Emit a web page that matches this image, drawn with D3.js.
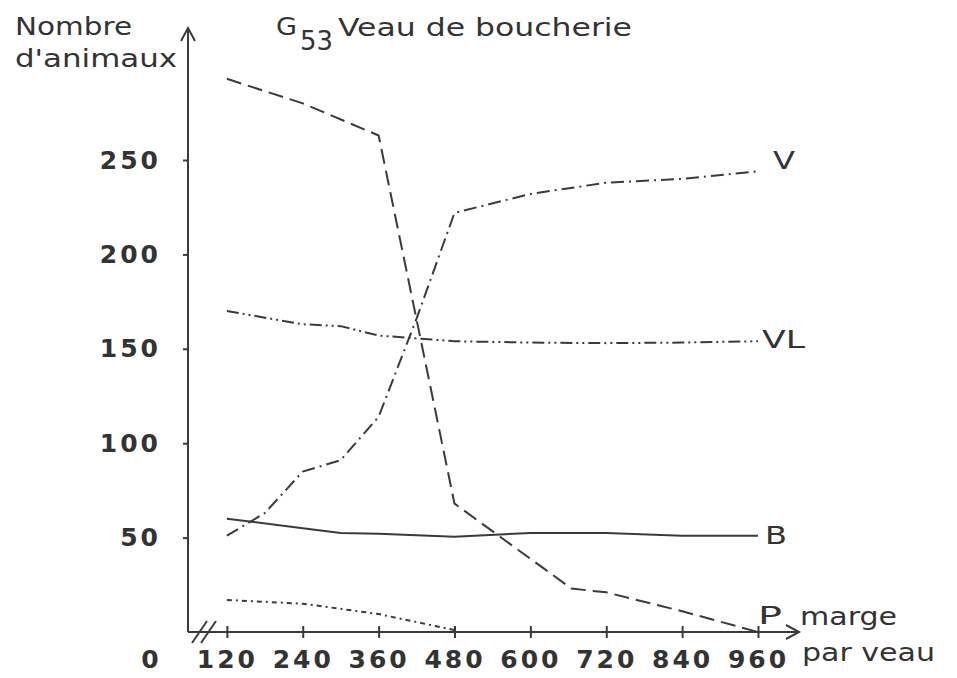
<!DOCTYPE html>
<html>
<head>
<meta charset="utf-8">
<script src="https://cdn.jsdelivr.net/npm/d3@7"></script>
<style>
  html, body { margin: 0; padding: 0; background: #fff; }
  svg { display: block; }
  text { font-family: "DejaVu Sans", sans-serif; fill: #333; }
</style>
</head>
<body>
<svg id="chart" width="957" height="678"></svg>
<script>
// Marge par veau (x) and number of animals (y) for each herd type
const xTickValues = [0, 120, 240, 360, 480, 600, 720, 840, 960];
const yTickValues = [50, 100, 150, 200, 250];

const margeP = [120, 240, 360, 480, 665, 720, 840, 960];
const animauxP = [293, 280, 263, 68, 23, 21, 11, 0];

const margeV = [120, 180, 240, 300, 360, 420, 480, 600, 720, 840, 960];
const animauxV = [51, 63, 85, 91, 114, 166, 222, 232, 238, 240, 244];

const margeVL = [120, 240, 300, 360, 420, 480, 600, 720, 840, 960];
const animauxVL = [170, 163, 162, 157, 155.5, 154, 153.3, 153, 153.3, 154];

const margeB = [120, 240, 300, 360, 480, 600, 720, 840, 960];
const animauxB = [60, 55, 52.5, 52, 50.5, 52.5, 52.5, 51, 51];

const margeAutre = [120, 240, 360, 480];
const animauxAutre = [17, 15, 9.5, 1];

const svg = d3.select("#chart");
const ink = "#3a3a3a";

const x = d3.scaleLinear().domain([0, 960]).range([151, 758]);
const y = d3.scaleLinear().domain([0, 250]).range([632, 160]);

const axisX = 188;   // position of the vertical axis
const baseY = y(0);

// ---- Y axis with arrow ----
svg.append("line")
  .attr("x1", axisX).attr("x2", axisX)
  .attr("y1", baseY).attr("y2", 29)
  .attr("stroke", ink).attr("stroke-width", 2);
svg.append("path")
  .attr("d", `M${axisX - 7},${41} L${axisX},${28} L${axisX + 7},${41}`)
  .attr("fill", "none").attr("stroke", ink).attr("stroke-width", 2);

const gy = svg.append("g")
  .attr("transform", `translate(${axisX},0)`)
  .call(d3.axisLeft(y).tickValues(yTickValues).tickSize(5).tickPadding(22));
gy.select(".domain").remove();
gy.selectAll(".tick line").attr("stroke", ink).attr("stroke-width", 2);
gy.selectAll(".tick text")
  .attr("font-size", 25).attr("font-weight", "bold")
  .attr("letter-spacing", 3).attr("fill", "#333")
  .attr("font-family", "DejaVu Sans, sans-serif");

// ---- X axis with arrow and break ----
svg.append("line")
  .attr("x1", axisX).attr("x2", 798)
  .attr("y1", baseY).attr("y2", baseY)
  .attr("stroke", ink).attr("stroke-width", 2);
svg.append("path")
  .attr("d", `M${786},${baseY - 7} L${799},${baseY} L${786},${baseY + 7}`)
  .attr("fill", "none").attr("stroke", ink).attr("stroke-width", 2);

const gx = svg.append("g")
  .attr("transform", `translate(0,${baseY})`)
  .call(d3.axisBottom(x).tickValues(xTickValues).tickSize(6).tickPadding(0));
gx.select(".domain").remove();
gx.selectAll(".tick line")
  .attr("y1", -6).attr("y2", 6)
  .attr("stroke", ink).attr("stroke-width", 2)
  .filter(d => d === 0).remove();
gx.selectAll(".tick text")
  .attr("y", 36).attr("dy", null)
  .attr("font-size", 25).attr("font-weight", "bold")
  .attr("letter-spacing", 3).attr("fill", "#333")
  .attr("font-family", "DejaVu Sans, sans-serif");

// axis break mark
[0, 9].forEach(off => {
  svg.append("line")
    .attr("x1", 192 + off).attr("y1", baseY + 11)
    .attr("x2", 207 + off).attr("y2", baseY - 11)
    .attr("stroke", ink).attr("stroke-width", 2);
});

// ---- Series lines ----
const line = d3.line().x(d => x(d[0])).y(d => y(d[1]));
const series = [
  { xs: margeP, ys: animauxP, dash: "15,7" },
  { xs: margeV, ys: animauxV, dash: "13,5,2,5" },
  { xs: margeVL, ys: animauxVL, dash: "12,4,2,4,2,4" },
  { xs: margeB, ys: animauxB, dash: null },
  { xs: margeAutre, ys: animauxAutre, dash: "5,4,2,4" }
];
series.forEach(s => {
  svg.append("path")
    .datum(d3.zip(s.xs, s.ys))
    .attr("d", line)
    .attr("fill", "none")
    .attr("stroke", ink)
    .attr("stroke-width", 2)
    .attr("stroke-dasharray", s.dash);
});

// ---- Series labels ----
const endOf = (xs, ys) => [x(xs[xs.length - 1]), y(ys[ys.length - 1])];
function seriesLabel(txt, pos, dx, dy, len) {
  svg.append("text")
    .attr("x", pos[0] + dx).attr("y", pos[1] + dy)
    .attr("font-size", 25)
    .attr("textLength", len).attr("lengthAdjust", "spacingAndGlyphs")
    .text(txt);
}
seriesLabel("V", endOf(margeV, animauxV), 15, -2, 22);
seriesLabel("VL", endOf(margeVL, animauxVL), 4, 7, 43);
seriesLabel("B", endOf(margeB, animauxB), 7, 8, 22);
seriesLabel("P", endOf(margeP, animauxP), 0, -8, 24);

// ---- Titles ----
function label(txt, px, py, size, len) {
  return svg.append("text")
    .attr("x", px).attr("y", py)
    .attr("font-size", size)
    .attr("textLength", len).attr("lengthAdjust", "spacingAndGlyphs")
    .text(txt);
}
label("Nombre", 15, 35, 24, 117);
label("d'animaux", 15, 67, 24, 162);
label("G", 276, 35, 24, 21);
label("53", 300, 50, 26, 33);
label("Veau de boucherie", 338, 36, 24, 294);
label("marge", 800, 625, 24, 97);
label("par veau", 802, 661, 24, 133);
</script>
</body>
</html>
